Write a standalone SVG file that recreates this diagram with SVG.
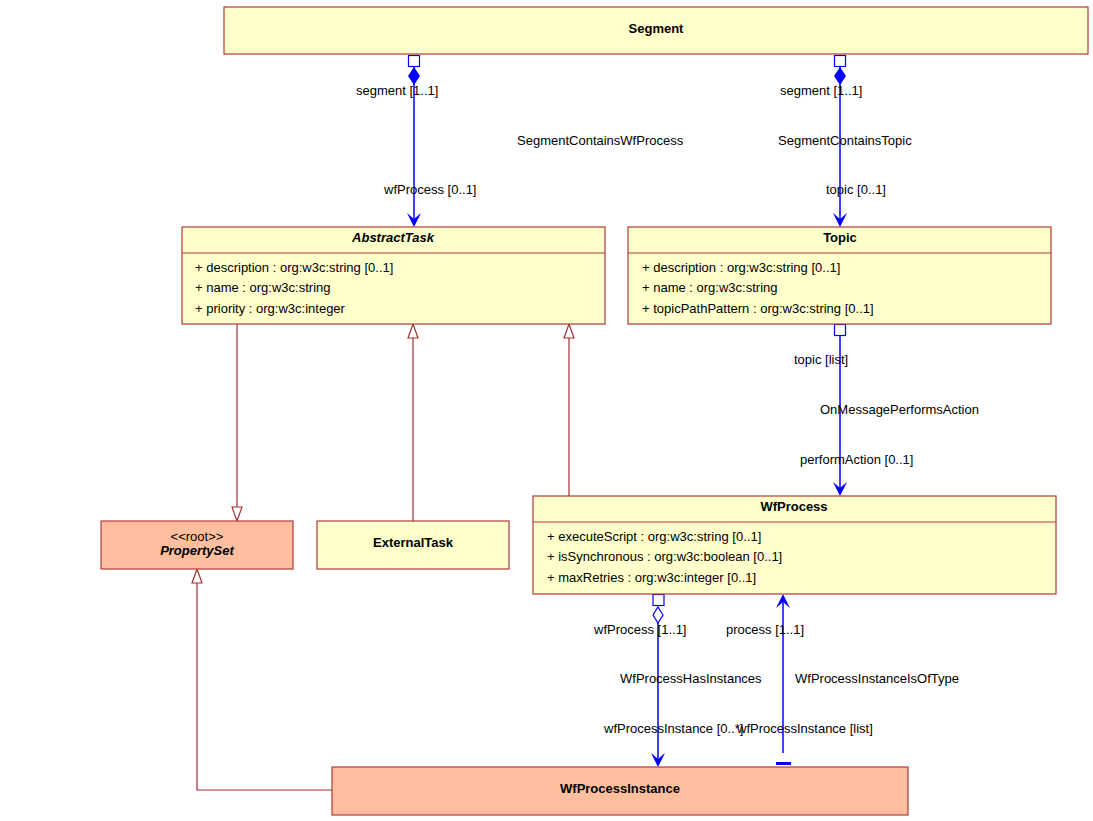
<svg xmlns="http://www.w3.org/2000/svg" width="1093" height="821" viewBox="0 0 1093 821">
<style>
text{font-family:"Liberation Sans",Arial,sans-serif;font-size:13px;fill:#000}
.t{font-weight:bold;text-anchor:middle}
.i{font-style:italic}
.y{fill:#ffffcc;stroke:#b03a3a;stroke-width:1.2}
.o{fill:#ffbf9f;stroke:#b03a3a;stroke-width:1.2}
.sep{stroke:#b03a3a;stroke-width:1.2}
.a{stroke:#0000ff;stroke-width:1.5;fill:none}
.af{fill:#0000ff}
.g{stroke:#a03030;stroke-width:1.2;fill:none}
.gt{fill:#fff;stroke:#a03030;stroke-width:1.2}
.sq{fill:#fff;stroke:#0000ff;stroke-width:1.2}
</style>
<g id="connectors">
<!-- Segment -> AbstractTask -->
<line class="a" x1="414" y1="66" x2="414" y2="224"/>
<rect class="sq" x="408.5" y="55.5" width="11" height="11"/>
<path class="af" d="M414,67 L420,76 L414,85 L408,76 Z"/>
<path class="af" d="M407,213 L414,227 L421,213 L414,219 Z"/>
<text x="356" y="95">segment [1..1]</text>
<text x="517" y="145">SegmentContainsWfProcess</text>
<text x="384" y="194">wfProcess [0..1]</text>
<!-- Segment -> Topic -->
<line class="a" x1="840" y1="66" x2="840" y2="224"/>
<rect class="sq" x="834.5" y="55.5" width="11" height="11"/>
<path class="af" d="M840,67 L846,76 L840,85 L834,76 Z"/>
<path class="af" d="M833,213 L840,227 L847,213 L840,219 Z"/>
<text x="780" y="95">segment [1..1]</text>
<text x="778" y="145">SegmentContainsTopic</text>
<text x="826" y="194">topic [0..1]</text>
<!-- Topic -> WfProcess -->
<line class="a" x1="840" y1="335" x2="840" y2="493"/>
<rect class="sq" x="834.5" y="324.5" width="11" height="11"/>
<path class="af" d="M833,482 L840,496 L847,482 L840,488 Z"/>
<text x="794" y="364">topic [list]</text>
<text x="820" y="414">OnMessagePerformsAction</text>
<text x="800" y="464">performAction [0..1]</text>
<!-- WfProcess -> WfProcessInstance -->
<line class="a" x1="658" y1="623" x2="658" y2="764"/>
<rect class="sq" x="653" y="594.5" width="11" height="11"/>
<path class="sq" d="M658,607 L663,615 L658,623 L653,615 Z"/>
<path class="af" d="M651,753 L658,767 L665,753 L658,759 Z"/>
<text x="594" y="634">wfProcess [1..1]</text>
<text x="620" y="683">WfProcessHasInstances</text>
<text x="604" y="733">wfProcessInstance [0..*]</text>
<!-- WfProcessInstance -> WfProcess -->
<line class="a" x1="783" y1="597" x2="783" y2="753"/>
<path class="af" d="M776,608 L783,594 L790,608 L783,602 Z"/>
<rect class="af" x="776" y="762" width="15" height="3"/>
<text x="726" y="634">process [1..1]</text>
<text x="795" y="683">WfProcessInstanceIsOfType</text>
<text x="737" y="733">wfProcessInstance [list]</text>
<!-- generalizations -->
<line class="g" x1="237" y1="324" x2="237" y2="507"/>
<path class="gt" d="M232,507 L242,507 L237,521 Z"/>
<line class="g" x1="413" y1="338" x2="413" y2="521"/>
<path class="gt" d="M408,338 L418,338 L413,324 Z"/>
<line class="g" x1="569" y1="338" x2="569" y2="496"/>
<path class="gt" d="M564,338 L574,338 L569,324 Z"/>
<polyline class="g" points="332,790 197,790 197,583"/>
<path class="gt" d="M192,583 L202,583 L197,569 Z"/>
</g>
<g id="Segment">
<rect class="y" x="224" y="7" width="864" height="47"/>
<text class="t" x="656" y="33">Segment</text>
</g>
<g id="AbstractTask">
<rect class="y" x="182" y="227" width="423" height="97"/>
<line class="sep" x1="182" y1="253" x2="605" y2="253"/>
<text class="t i" x="393" y="242">AbstractTask</text>
<text x="195" y="272">+ description : org:w3c:string [0..1]</text>
<text x="195" y="292">+ name : org:w3c:string</text>
<text x="195" y="313">+ priority : org:w3c:integer</text>
</g>
<g id="Topic">
<rect class="y" x="628" y="227" width="423" height="97"/>
<line class="sep" x1="628" y1="253" x2="1051" y2="253"/>
<text class="t" x="840" y="242">Topic</text>
<text x="642" y="272">+ description : org:w3c:string [0..1]</text>
<text x="642" y="292">+ name : org:w3c:string</text>
<text x="642" y="313">+ topicPathPattern : org:w3c:string [0..1]</text>
</g>
<g id="PropertySet">
<rect class="o" x="101" y="521" width="192" height="48"/>
<text x="197" y="541" text-anchor="middle">&lt;&lt;root&gt;&gt;</text>
<text class="t i" x="197" y="555">PropertySet</text>
</g>
<g id="ExternalTask">
<rect class="y" x="317" y="521" width="192" height="48"/>
<text class="t" x="413" y="547">ExternalTask</text>
</g>
<g id="WfProcess">
<rect class="y" x="533" y="496" width="523" height="98"/>
<line class="sep" x1="533" y1="522" x2="1056" y2="522"/>
<text class="t" x="794" y="511">WfProcess</text>
<text x="547" y="541">+ executeScript : org:w3c:string [0..1]</text>
<text x="547" y="561">+ isSynchronous : org:w3c:boolean [0..1]</text>
<text x="547" y="582">+ maxRetries : org:w3c:integer [0..1]</text>
</g>
<g id="WfProcessInstance">
<rect class="o" x="332" y="767" width="576" height="48"/>
<text class="t" x="620" y="793">WfProcessInstance</text>
</g>
</svg>
